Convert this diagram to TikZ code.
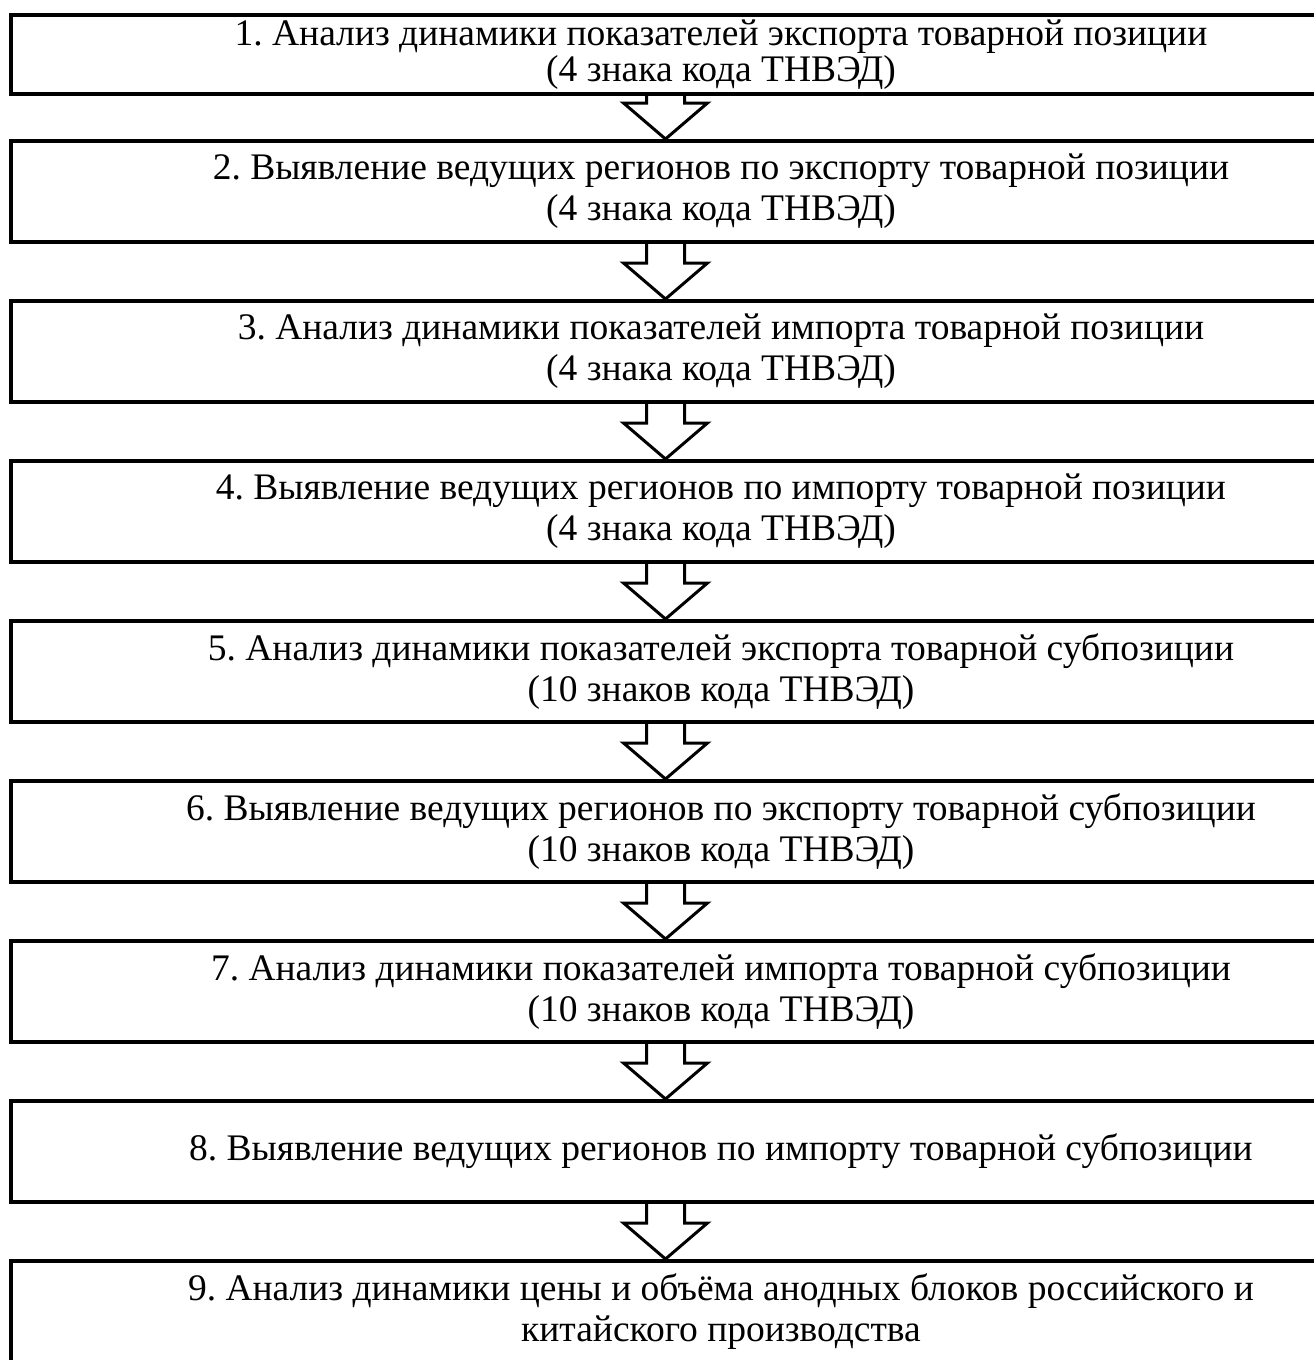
\documentclass[tikz,border=0pt]{standalone}
\usepackage{fontspec}
\setmainfont{Liberation Serif}
\usetikzlibrary{positioning, calc}
\frenchspacing

% hollow block arrow from one stage to the next
\newcommand{\flowarrow}[2]{%
  \draw[hollow] ($(#1.south -| ax)+(-19,0)$) |- ($(#2.north -| ax)+(-42,-36)$)
    -- (#2.north -| ax) -- ($(#2.north -| ax)+(42,-36)$) -| ($(#1.south -| ax)+(19,0)$);}

\begin{document}
\begin{tikzpicture}[
    x=1pt, y=-1pt,
    node distance=55pt,
    stage/.style={rectangle, draw, line width=4pt, minimum width=1420pt, minimum height=101pt,
      inner ysep=0pt, align=center, font=\fontsize{37.5}{41}\selectfont},
    hollow/.style={line width=3pt}
]
\useasboundingbox (0,0) rectangle (1314,1360);
\coordinate (ax) at (665.5,0);

\node[stage, minimum height=79pt, font=\fontsize{37.5}{36}\selectfont] (s1) at (721,54.5)
  {1. Анализ динамики показателей экспорта товарной позиции\\(4 знака кода ТНВЭД)};
\node[stage, below=43pt of s1] (s2)
  {2. Выявление ведущих регионов по экспорту товарной позиции\\(4 знака кода ТНВЭД)};
\node[stage, below=of s2] (s3)
  {3. Анализ динамики показателей импорта товарной позиции\\(4 знака кода ТНВЭД)};
\node[stage, below=of s3] (s4)
  {4. Выявление ведущих регионов по импорту товарной позиции\\(4 знака кода ТНВЭД)};
\node[stage, below=of s4] (s5)
  {5. Анализ динамики показателей экспорта товарной субпозиции\\(10 знаков кода ТНВЭД)};
\node[stage, below=of s5] (s6)
  {6. Выявление ведущих регионов по экспорту товарной субпозиции\\(10 знаков кода ТНВЭД)};
\node[stage, below=of s6] (s7)
  {7. Анализ динамики показателей импорта товарной субпозиции\\(10 знаков кода ТНВЭД)};
\node[stage, below=of s7] (s8)
  {8. Выявление ведущих регионов по импорту товарной субпозиции};
\node[stage, below=of s8] (s9)
  {9. Анализ динамики цены и объёма анодных блоков российского и\\китайского производства};

\foreach \a/\b in {s1/s2, s2/s3, s3/s4, s4/s5, s5/s6, s6/s7, s7/s8, s8/s9}
  \flowarrow{\a}{\b};
\end{tikzpicture}
\end{document}
